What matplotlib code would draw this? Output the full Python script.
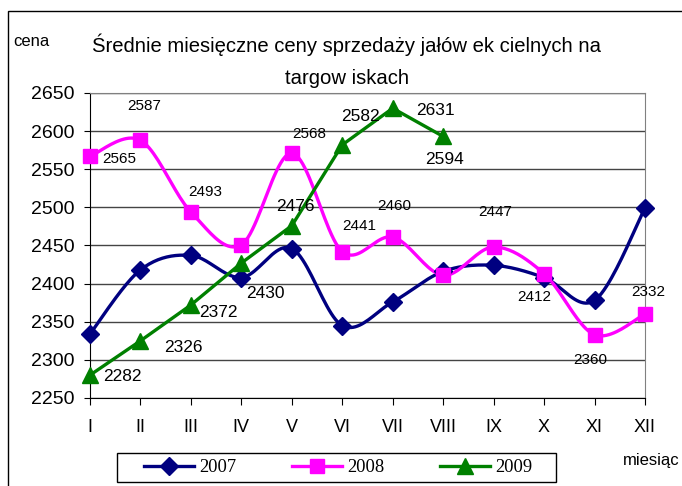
import numpy as np
import matplotlib
matplotlib.use('Agg')
import matplotlib.pyplot as plt
from matplotlib.patches import Rectangle
from matplotlib.lines import Line2D

months = ['I', 'II', 'III', 'IV', 'V', 'VI', 'VII', 'VIII', 'IX', 'X', 'XI', 'XII']
sales_2007 = [2334, 2418, 2437, 2408, 2446, 2345, 2376, 2416, 2424, 2408, 2378, 2499]
sales_2008 = [2567, 2588, 2494, 2451, 2571, 2442, 2461, 2411, 2448, 2413, 2333, 2360]
sales_2009 = [2280, 2325, 2372, 2427, 2476, 2582, 2630, 2593]
labels_2008 = ['2565', '2587', '2493', None, '2568', '2441', '2460', None, '2447', '2412', '2360', '2332']
labels_2009 = ['2282', '2326', '2372', '2430', '2476', '2582', '2631', '2594']
years = ['2007', '2008', '2009']

plt.rcParams['font.family'] = ['Liberation Sans', 'DejaVu Sans']


def smooth(x, y, n=24):
    # krzywa jak w Excelu (Catmull-Rom -> Bezier)
    pts = np.column_stack([x, y]).astype(float)
    P = np.vstack([pts[0], pts, pts[-1]])
    out = []
    t = np.linspace(0, 1, n)[:, None]
    for i in range(len(pts) - 1):
        p0, p1, p2, p3 = P[i], P[i + 1], P[i + 2], P[i + 3]
        c1 = p1 + (p2 - p0) / 6
        c2 = p2 - (p3 - p1) / 6
        seg = (1 - t) ** 3 * p1 + 3 * (1 - t) ** 2 * t * c1 + 3 * (1 - t) * t ** 2 * c2 + t ** 3 * p2
        out.append(seg if i == 0 else seg[1:])
    return np.vstack(out)


fig = plt.figure(figsize=(6.82, 4.86), dpi=100)
ax = fig.add_axes([90 / 682, 1 - 398 / 486, 555 / 682, 305 / 486])

x = np.arange(len(months))
c07, c08, c09 = '#000080', '#ff00ff', '#008000'

s = smooth(x, sales_2007)
ax.plot(s[:, 0], s[:, 1], color=c07, lw=2.4, clip_on=False, zorder=3)
ax.plot(x, sales_2007, ls='none', marker='D', ms=9, color=c07, clip_on=False, zorder=4)

s = smooth(x, sales_2008)
ax.plot(s[:, 0], s[:, 1], color=c08, lw=2.4, clip_on=False, zorder=3)
ax.plot(x, sales_2008, ls='none', marker='s', ms=10, color=c08, clip_on=False, zorder=4)

x9 = np.arange(len(sales_2009))
ax.plot(x9, sales_2009, color=c09, lw=2.4, marker='^', ms=12, clip_on=False, zorder=5)

off_2008 = [(29, -3), (4, 34), (14, 20), None, (17, 19), (17, 26), (2, 31), None,
            (2, 35), (-10, -23), (-4, -25), (3, 22)]
for i, lab in enumerate(labels_2008):
    if lab is None:
        continue
    ax.annotate(lab, (x[i], sales_2008[i]), xytext=off_2008[i], textcoords='offset pixels',
                ha='center', va='center', fontsize=11, zorder=6)

off_2009 = [(32, -1), (43, -7), (27, -8), (24, -30), (4, 19), (18, 28), (43, -2), (1, -23)]
for i, lab in enumerate(labels_2009):
    ax.annotate(lab, (x9[i], sales_2009[i]), xytext=off_2009[i], textcoords='offset pixels',
                ha='center', va='center', fontsize=12.5, zorder=6)

ax.set_xlim(0, len(months) - 1)
ax.set_ylim(2250, 2650)
ax.set_yticks(np.arange(2250, 2651, 50))
ax.set_xticks(x)
ax.set_xticklabels(months)
ax.tick_params(axis='y', labelsize=14, length=4, pad=7, direction='out')
ax.tick_params(axis='x', labelsize=13, length=5, pad=10, direction='out')
ax.grid(axis='y', color='#444444', lw=1)
ax.set_axisbelow(True)
for side in ['top', 'right']:
    ax.spines[side].set_color('#808080')
ax.spines['left'].set_color('black')
ax.spines['bottom'].set_color('black')

fig.text(347 / 682, 1 - 45 / 486, 'Średnie miesięczne ceny sprzedaży jałów ek cielnych na',
         ha='center', va='center', fontsize=14.6)
fig.text(347 / 682, 1 - 79 / 486, 'targow iskach', ha='center', va='center', fontsize=14.6)
fig.text(31 / 682, 1 - 42 / 486, 'cena', ha='center', va='center', fontsize=12)
fig.text(623 / 682, 1 - 460 / 486, 'miesiąc', ha='left', va='center', fontsize=12)

# ramka wykresu
fig.patches.append(Rectangle((8 / 682, -0.1), 1.2, 1 - 11 / 486 + 0.1, transform=fig.transFigure,
                             fill=False, edgecolor='black', lw=1))
# ramka legendy
fig.patches.append(Rectangle((117 / 682, 1 - 482 / 486), 439 / 682, 29 / 486,
                             transform=fig.transFigure, fill=False, edgecolor='black', lw=1))

handles = [Line2D([], [], color=c07, lw=2.4, marker='D', ms=9),
           Line2D([], [], color=c08, lw=2.4, marker='s', ms=10),
           Line2D([], [], color=c09, lw=2.4, marker='^', ms=11)]
fig.legend(handles, years, loc='center', bbox_to_anchor=(338 / 682, 1 - 467.5 / 486), ncol=3,
           frameon=False, prop={'family': 'Liberation Serif', 'size': 13.3},
           handlelength=2.7, handletextpad=0.3, columnspacing=3.0, borderpad=0)

fig.savefig('out.png', dpi=100)
